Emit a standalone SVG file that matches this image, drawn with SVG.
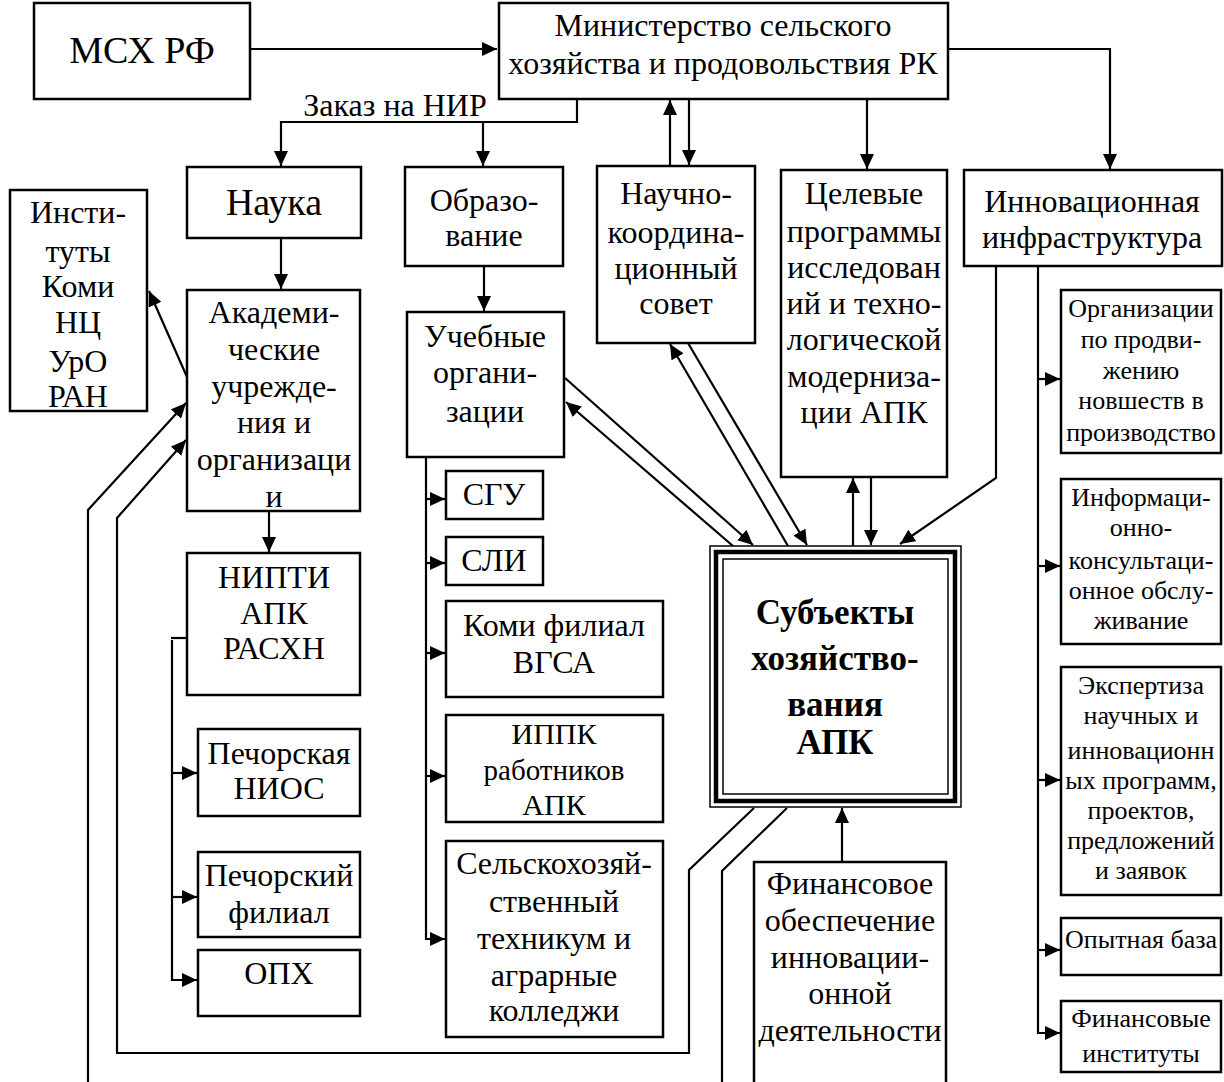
<svg xmlns="http://www.w3.org/2000/svg" width="1224" height="1082" viewBox="0 0 1224 1082">
<style>
.b{fill:#fff;stroke:#000;stroke-width:2.5}
.t{font-family:"Liberation Serif","Times New Roman",serif;font-size:32px;text-anchor:middle;fill:#000}
.s{font-size:26px}
.bold{font-weight:bold;font-size:35px}
.c{fill:none;stroke:#000;stroke-width:2.2}
</style>
<defs>
<marker id="a" markerUnits="userSpaceOnUse" markerWidth="16" markerHeight="14" refX="15" refY="7" orient="auto">
<path d="M0,0 L15,7 L0,14 z" fill="#000"/>
</marker>
</defs>
<rect width="1224" height="1082" fill="#fff"/>
<g id="connectors">
<path class="c" d="M250,49 H497" marker-end="url(#a)"/>
<path class="c" d="M948,49 H1110 V169" marker-end="url(#a)"/>
<path class="c" d="M577,99 V122 H281 V166" marker-end="url(#a)"/>
<path class="c" d="M483,122 V166" marker-end="url(#a)"/>
<path class="c" d="M670,166 V100" marker-end="url(#a)"/>
<path class="c" d="M689,100 V165" marker-end="url(#a)"/>
<path class="c" d="M867,100 V169" marker-end="url(#a)"/>
<path class="c" d="M281,238 V289" marker-end="url(#a)"/>
<path class="c" d="M187,377 L149,291" marker-end="url(#a)"/>
<path class="c" d="M88,1082 V510 L186,403" marker-end="url(#a)"/>
<path class="c" d="M754,808 L689,870 V1053 H117 V518 L186,440" marker-end="url(#a)"/>
<path class="c" d="M787,808 L722,871 V1082"/>
<path class="c" d="M269,511 V552" marker-end="url(#a)"/>
<path class="c" d="M187,638 H171"/>
<path class="c" d="M172,640 V980 H197" marker-end="url(#a)"/>
<path class="c" d="M172,773 H197" marker-end="url(#a)"/>
<path class="c" d="M172,897 H197" marker-end="url(#a)"/>
<path class="c" d="M484,266 V311" marker-end="url(#a)"/>
<path class="c" d="M426,457 V939 H445" marker-end="url(#a)"/>
<path class="c" d="M426,499 H445" marker-end="url(#a)"/>
<path class="c" d="M426,563 H445" marker-end="url(#a)"/>
<path class="c" d="M426,653 H445" marker-end="url(#a)"/>
<path class="c" d="M426,776 H445" marker-end="url(#a)"/>
<path class="c" d="M565,378 L753,545" marker-end="url(#a)"/>
<path class="c" d="M733,546 L566,402" marker-end="url(#a)"/>
<path class="c" d="M688,343 L807,545" marker-end="url(#a)"/>
<path class="c" d="M788,546 L670,344" marker-end="url(#a)"/>
<path class="c" d="M853,546 V478" marker-end="url(#a)"/>
<path class="c" d="M871,477 V545" marker-end="url(#a)"/>
<path class="c" d="M996,266 V478 L900,544" marker-end="url(#a)"/>
<path class="c" d="M1038,266 V1033 H1060" marker-end="url(#a)"/>
<path class="c" d="M1038,379 H1060" marker-end="url(#a)"/>
<path class="c" d="M1038,566 H1060" marker-end="url(#a)"/>
<path class="c" d="M1038,780 H1060" marker-end="url(#a)"/>
<path class="c" d="M1038,950 H1060" marker-end="url(#a)"/>
<path class="c" d="M842,862 V808" marker-end="url(#a)"/>
</g>
<text class="t" x="395" y="116">Заказ на НИР</text>
<g id="msh"><rect class="b" x="34" y="3" width="216" height="96"/><text class="t" style="font-size:38px" x="142" y="63">МСХ РФ</text></g>
<g id="ministry"><rect class="b" x="499" y="3" width="449" height="96"/><text class="t" x="723" y="36">Министерство сельского</text><text class="t" x="723" y="74">хозяйства и продовольствия РК</text></g>
<g id="nauka"><rect class="b" x="187" y="167" width="174" height="71"/><text class="t" style="font-size:38px" x="274" y="215">Наука</text></g>
<g id="obr"><rect class="b" x="405" y="167" width="158" height="99"/><text class="t" x="484" y="211">Образо-</text><text class="t" x="484" y="246">вание</text></g>
<g id="nks"><rect class="b" x="597" y="166" width="158" height="177"/><text class="t" x="676" y="204">Научно-</text><text class="t" x="676" y="243">координа-</text><text class="t" x="676" y="279">ционный</text><text class="t" x="676" y="314">совет</text></g>
<g id="celevye"><rect class="b" x="781" y="170" width="166" height="307"/><text class="t" x="864" y="204">Целевые</text><text class="t" x="864" y="242">программы</text><text class="t" x="864" y="278">исследован</text><text class="t" x="864" y="314">ий и техно-</text><text class="t" x="864" y="350">логической</text><text class="t" x="864" y="387">модерниза-</text><text class="t" x="864" y="423">ции АПК</text></g>
<g id="infra"><rect class="b" x="964" y="170" width="258" height="96"/><text class="t" x="1092" y="212">Инновационная</text><text class="t" x="1092" y="248">инфраструктура</text></g>
<g id="inst"><rect class="b" x="10" y="190" width="137" height="221"/><text class="t" x="78" y="223">Инсти-</text><text class="t" x="78" y="262">туты</text><text class="t" x="78" y="297">Коми</text><text class="t" x="78" y="333">НЦ</text><text class="t" x="78" y="372">УрО</text><text class="t" x="78" y="407">РАН</text></g>
<g id="akad"><rect class="b" x="187" y="290" width="173" height="221"/><text class="t" x="274" y="323">Академи-</text><text class="t" x="274" y="360">ческие</text><text class="t" x="274" y="397">учрежде-</text><text class="t" x="274" y="433">ния и</text><text class="t" x="274" y="470">организаци</text><text class="t" x="274" y="507">и</text></g>
<g id="nipti"><rect class="b" x="187" y="553" width="173" height="142"/><text class="t" x="274" y="588">НИПТИ</text><text class="t" x="274" y="624">АПК</text><text class="t" x="274" y="659">РАСХН</text></g>
<g id="pniosc"><rect class="b" x="198" y="729" width="162" height="87"/><text class="t" x="279" y="764">Печорская</text><text class="t" x="279" y="799">НИОС</text></g>
<g id="pfil"><rect class="b" x="198" y="852" width="162" height="85"/><text class="t" x="279" y="886">Печорский</text><text class="t" x="279" y="923">филиал</text></g>
<g id="opx"><rect class="b" x="198" y="950" width="162" height="66"/><text class="t" x="279" y="984">ОПХ</text></g>
<g id="ucheb"><rect class="b" x="407" y="312" width="157" height="145"/><text class="t" x="485" y="347">Учебные</text><text class="t" x="485" y="383">органи-</text><text class="t" x="485" y="422">зации</text></g>
<g id="sgu"><rect class="b" x="446" y="471" width="97" height="48"/><text class="t" x="494" y="505">СГУ</text></g>
<g id="sli"><rect class="b" x="446" y="537" width="97" height="48"/><text class="t" x="494" y="571">СЛИ</text></g>
<g id="vgsa"><rect class="b" x="446" y="601" width="217" height="96"/><text class="t" x="554" y="636">Коми филиал</text><text class="t" x="554" y="673">ВГСА</text></g>
<g id="ippk"><rect class="b" x="446" y="715" width="217" height="107"/><text class="t" style="font-size:30px" x="554" y="744">ИППК</text><text class="t" x="554" y="780" style="font-size:29px">работников</text><text class="t" style="font-size:30px" x="554" y="815">АПК</text></g>
<g id="tech"><rect class="b" x="446" y="841" width="217" height="196"/><text class="t" x="554" y="874">Сельскохозяй-</text><text class="t" x="554" y="912">ственный</text><text class="t" x="554" y="949">техникум и</text><text class="t" x="554" y="986">аграрные</text><text class="t" x="554" y="1021">колледжи</text></g>
<g id="central"><rect x="710" y="546" width="251" height="261" fill="#fff" stroke="#000" stroke-width="1.5"/><rect x="716" y="552" width="239" height="249" fill="none" stroke="#000" stroke-width="4.5"/><rect x="723" y="559" width="225" height="235" fill="none" stroke="#000" stroke-width="1.5"/><text class="t bold" x="835" y="624">Субъекты</text><text class="t bold" x="835" y="670">хозяйство-</text><text class="t bold" x="835" y="716">вания</text><text class="t bold" x="835" y="754">АПК</text></g>
<g id="fin"><rect class="b" x="754" y="862" width="192" height="230"/><text class="t" x="850" y="894">Финансовое</text><text class="t" x="850" y="931">обеспечение</text><text class="t" x="850" y="968">инновации-</text><text class="t" x="850" y="1004">онной</text><text class="t" x="850" y="1041">деятельности</text></g>
<g id="org"><rect class="b" x="1061" y="290" width="160" height="163"/><text class="t s" x="1141" y="317">Организации</text><text class="t s" x="1141" y="348">по продви-</text><text class="t s" x="1141" y="379">жению</text><text class="t s" x="1141" y="409">новшеств в</text><text class="t s" x="1141" y="441">производство</text></g>
<g id="info"><rect class="b" x="1061" y="479" width="160" height="165"/><text class="t s" x="1141" y="506">Информаци-</text><text class="t s" x="1141" y="536">онно-</text><text class="t s" x="1141" y="569">консультаци-</text><text class="t s" x="1141" y="599">онное обслу-</text><text class="t s" x="1141" y="629">живание</text></g>
<g id="exp"><rect class="b" x="1061" y="667" width="160" height="228"/><text class="t s" x="1141" y="694">Экспертиза</text><text class="t s" x="1141" y="724">научных и</text><text class="t s" x="1141" y="759">инновационн</text><text class="t s" x="1141" y="789">ых программ,</text><text class="t s" x="1141" y="819">проектов,</text><text class="t s" x="1141" y="849">предложений</text><text class="t s" x="1141" y="879">и заявок</text></g>
<g id="opyt"><rect class="b" x="1061" y="918" width="160" height="57"/><text class="t s" x="1141" y="948">Опытная база</text></g>
<g id="fininst"><rect class="b" x="1061" y="1001" width="160" height="71"/><text class="t s" x="1141" y="1027">Финансовые</text><text class="t s" x="1141" y="1062">институты</text></g>
</svg>
